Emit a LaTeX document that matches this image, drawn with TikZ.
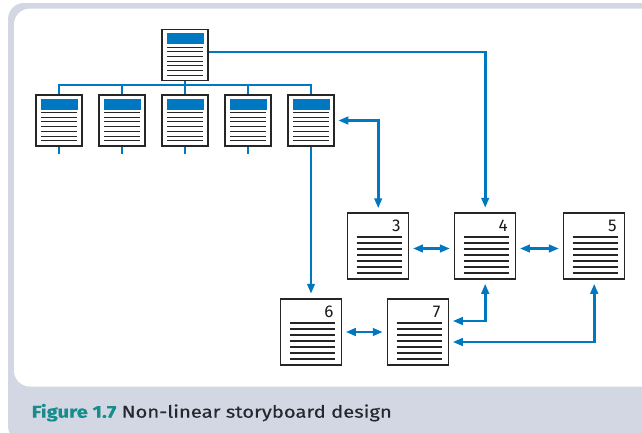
\documentclass[tikz,border=0pt]{standalone}
\usepackage{fontspec}
\setmainfont{Fira Sans}
\newfontfamily\capfont[FakeStretch=1.19, FakeBold=0.4]{Fira Sans}
\usepackage{tikz}
\usetikzlibrary{positioning, arrows.meta, calc}
\definecolor{storyblue}{RGB}{0,120,193}
\definecolor{framegray}{RGB}{211,215,227}
\definecolor{figteal}{RGB}{22,140,140}
\definecolor{captext}{RGB}{38,38,46}
\tikzstyle{smallpage}=[%
      rectangle, draw=black!85, line width=1.5pt, fill=white,
      minimum width=46pt, minimum height=51pt, inner sep=0pt,
      path picture={
        \fill[storyblue] ($(path picture bounding box.north west)+(4.5,3.5)$)
              rectangle ($(path picture bounding box.north east)+(-4.5,14.5)$);
        \foreach \k in {0,...,6}
          \draw[line width=1pt, black!85] ($(path picture bounding box.north west)+(5,17.5+4.7*\k)$) -- ++(36,0);
      }
]
\tikzstyle{bigpage}=[%
      rectangle, draw=black!85, line width=1.5pt, fill=white,
      minimum width=61pt, minimum height=66pt, inner xsep=8pt, inner ysep=0pt,
      text width=45pt, align=right, text height=18pt, text depth=48pt,
      font=\fontsize{17}{18}\selectfont, text=black!90,
      path picture={
        \foreach \k in {0,...,6}
          \draw[line width=1.4pt, black!85] ($(path picture bounding box.north west)+(9,24+6*\k)$) -- ++(45,0);
      }
]
\tikzstyle{bus}=[draw=storyblue, line width=2pt]
\tikzstyle{link}=[draw=storyblue, line width=2.6pt]
\tikzstyle{arr}=[link, -{Triangle[length=10pt,width=7.5pt]}, shorten >=4.5pt]
\tikzstyle{arr2}=[link, {Triangle[length=10pt,width=7.5pt]}-{Triangle[length=10pt,width=7.5pt]}, shorten <=3.5pt, shorten >=4pt]

\begin{document}
\begin{tikzpicture}[x=1pt, y=-1pt, node distance=15.5pt]
    % frame and caption band
    \useasboundingbox (0,0) rectangle (642,432);
    \clip (0,0) rectangle (642,432);
    \fill[framegray, rounded corners=16pt] (8,3) rectangle (680,442);
    \fill[white, rounded corners=16pt] (14,8.6) rectangle (680,386.5);

    \coordinate (row3) at (0,332);

    % pages
    \node[smallpage]            (top)  at (185,55)         {};
    \node[smallpage]            (r1)   at (59,120.5)       {};
    \node[smallpage]            (r2)   [right = of r1]     {};
    \node[smallpage]            (r3)   [right = of r2]     {};
    \node[smallpage]            (r4)   [right = of r3]     {};
    \node[smallpage]            (r5)   [right = of r4]     {};
    \node[bigpage]              (p3)   at (378.2,246)      {3};
    \node[bigpage]              (p4)   [right = 44.5pt of p3] {4};
    \node[bigpage]              (p5)   [right = 46.5pt of p4] {5};
    \node[bigpage]              (p6)   at (r5.south |- row3) {6};
    \node[bigpage]              (p7)   [right = 44.5pt of p6] {7};

    \coordinate (busline) at (0,85);
    \coordinate (stubs)   at (0,154);

    % tree of the first pages
    \draw[bus] (r1.north) -- (r1.north |- busline) -- (r5.north |- busline) -- (r5.north);
    \draw[bus] (top.south) -- (top.south |- busline);
    \foreach \n in {r2, r3, r4}
      \draw[bus] (\n.north |- busline) -- (\n.north);
    \foreach \n in {r1, r2, r3, r4}
      \draw[bus] (\n.south) -- (\n.south |- stubs);

    % links
    \draw[arr]  ([yshift=3pt]top.east) -| (p4.north);
    \draw[arr2] (r5.east) -| (p3.north);
    \draw[arr]  (r5.south) -- (p6.north);
    \draw[arr2] ([yshift=-2.5pt]p3.east) -- ([yshift=-2.5pt]p4.west);
    \draw[arr2] ([yshift=-2.5pt]p4.east) -- ([yshift=-2.5pt]p5.west);
    \draw[arr2] (p6.east) -- (p7.west);
    \draw[arr2] ([yshift=11pt]p7.east) -| (p4.south);
    \draw[arr2] ([yshift=-10pt]p7.east) -| (p5.south);

    % caption
    \node[anchor=base west, inner sep=0pt, font=\capfont\fontsize{17}{20}\selectfont, text=captext]
      (caption) at (31.5,417.7) {\textcolor{figteal}{\bfseries Figure 1.7} Non-linear storyboard design};
\end{tikzpicture}
\end{document}
